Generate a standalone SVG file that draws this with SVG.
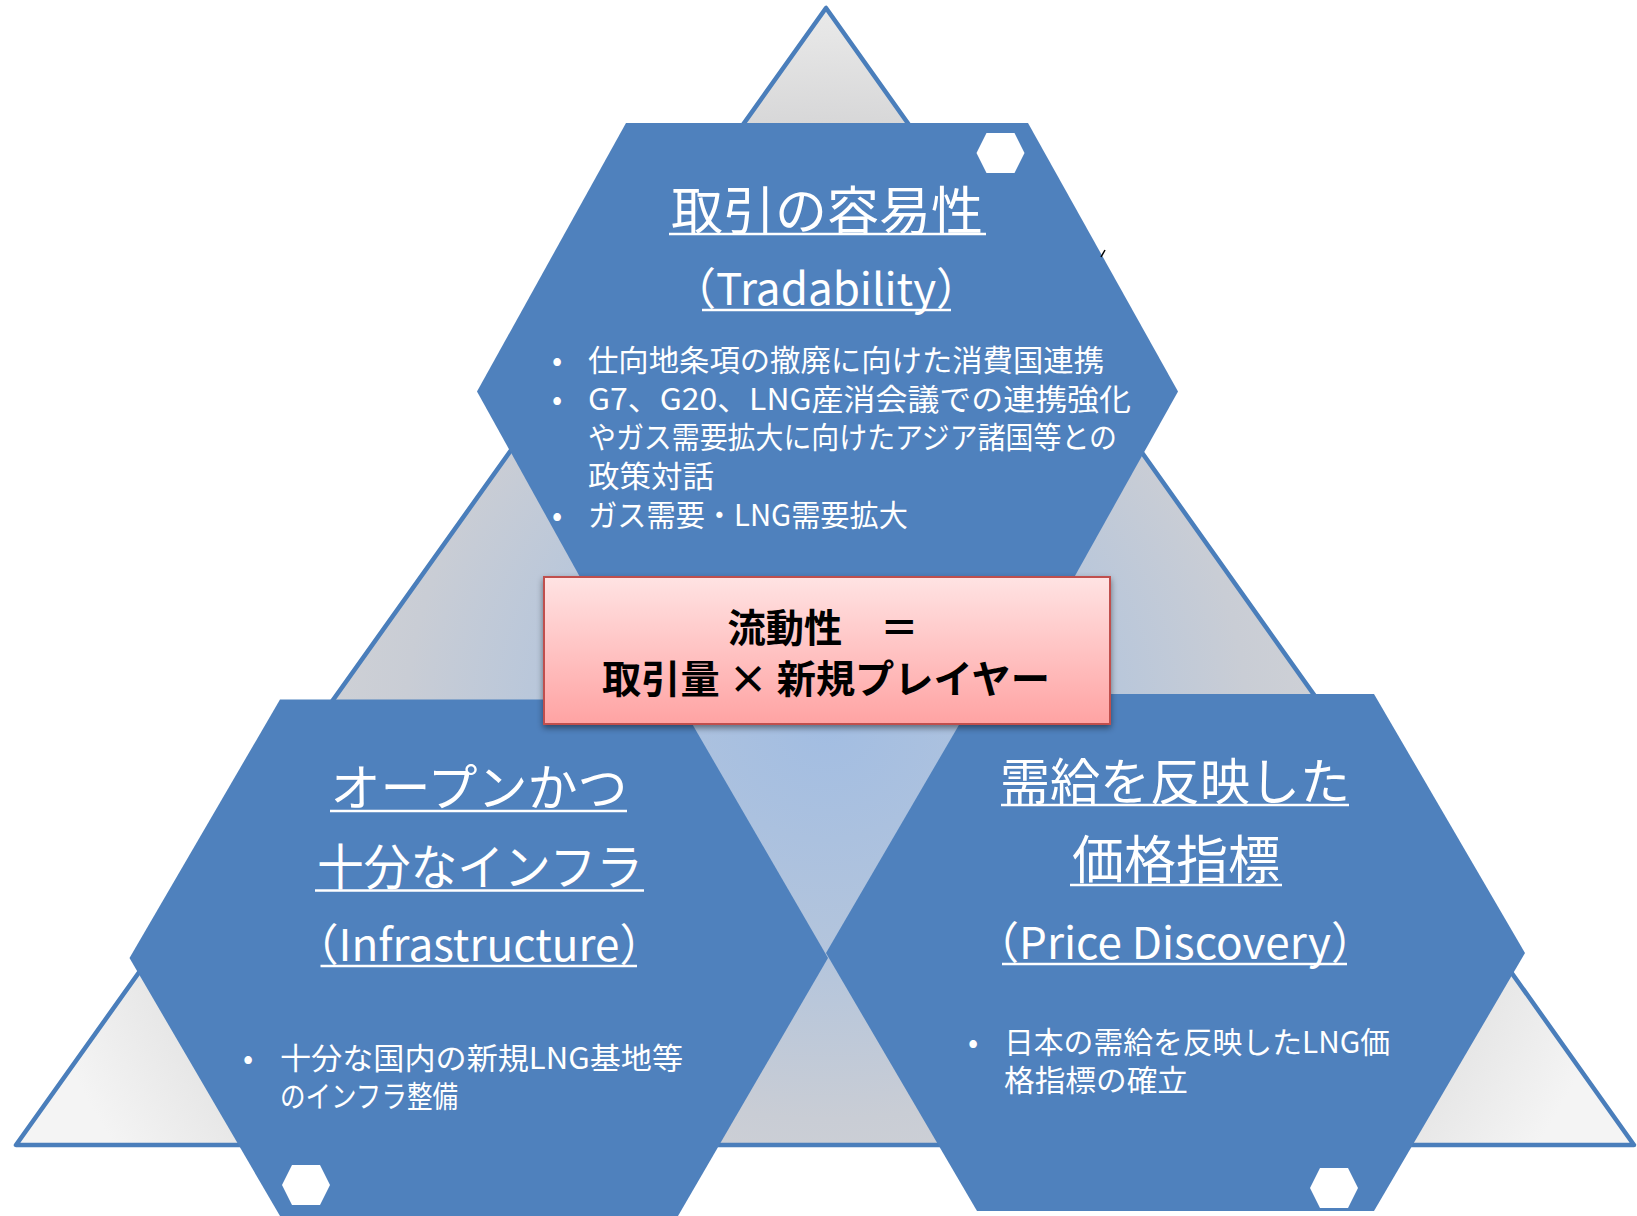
<svg xmlns="http://www.w3.org/2000/svg" width="1637" height="1216" viewBox="0 0 1637 1216">
<defs>
<radialGradient id="triG" gradientUnits="userSpaceOnUse" cx="826" cy="720" r="840" gradientTransform="translate(826 720) scale(1 0.95) translate(-826 -720)">
<stop offset="0" stop-color="#a2bde2"/>
<stop offset="0.3" stop-color="#b4c5dc"/>
<stop offset="0.5" stop-color="#c9cdd5"/>
<stop offset="0.74" stop-color="#d6d6d7"/>
<stop offset="0.86" stop-color="#e6e6e6"/>
<stop offset="1" stop-color="#f4f4f4"/>
</radialGradient>
<linearGradient id="pinkG" x1="0" y1="0" x2="0" y2="1">
<stop offset="0" stop-color="#ffe3e3"/>
<stop offset="1" stop-color="#ffa3a3"/>
</linearGradient>
<filter id="shadow" x="-10%" y="-10%" width="120%" height="130%">
<feDropShadow dx="0" dy="3" stdDeviation="3" flood-color="#000" flood-opacity="0.45"/>
</filter>
</defs>
<style>
.hex{fill:#4f81bd;}
.mini{fill:#ffffff;}
.title{font-family:"Noto Sans CJK JP","Noto Sans",sans-serif;fill:#ffffff;text-anchor:middle;}
.ul{stroke:#ffffff;stroke-width:2.5;}
.body{font-family:"Noto Sans CJK JP","Noto Sans",sans-serif;fill:#ffffff;font-size:30px;}
.center{font-family:"Noto Sans CJK JP","Noto Sans",sans-serif;fill:#000000;font-size:39px;font-weight:bold;text-anchor:middle;}
</style>

<g id="triangle">
<polygon points="826,8 16,1145 1634,1145" fill="url(#triG)" stroke="#4a7ebb" stroke-width="4.5" stroke-linejoin="round"/>
</g>

<g id="node-tradability">
<polygon class="hex" points="626,123 1028,123 1178,391.5 1028,660 626,660 477,391.5"/>
<polygon class="mini" points="976.5,153 986.5,133 1014.5,133 1024.5,153 1014.5,173 986.5,173"/>
<text class="title" x="827" y="230" font-size="52">取引の容易性</text>
<line class="ul" x1="669" y1="234" x2="986" y2="234"/>
<text class="title" x="826" y="305" font-size="44">（Tradability）</text>
<line class="ul" x1="702" y1="310" x2="951" y2="310"/>
<text class="body"><tspan x="552" y="371">•</tspan><tspan x="552" y="410">•</tspan><tspan x="552" y="526">•</tspan></text>
<text class="body"><tspan x="588" y="371" textLength="516" lengthAdjust="spacingAndGlyphs">仕向地条項の撤廃に向けた消費国連携</tspan><tspan x="588" y="410" textLength="543" lengthAdjust="spacingAndGlyphs">G7、G20、LNG産消会議での連携強化</tspan><tspan x="588" y="448" textLength="529" lengthAdjust="spacingAndGlyphs">やガス需要拡大に向けたアジア諸国等との</tspan><tspan x="588" y="487" textLength="126" lengthAdjust="spacingAndGlyphs">政策対話</tspan><tspan x="588" y="526" textLength="320" lengthAdjust="spacingAndGlyphs">ガス需要・LNG需要拡大</tspan></text>
<line x1="1101" y1="257" x2="1105" y2="250" stroke="#000" stroke-width="1.5"/>
</g>

<g id="node-infrastructure">
<polygon class="hex" points="280,699.5 678,699.5 828,958 678,1216 280,1216 129.5,958"/>
<polygon class="mini" points="282,1185 292,1165 320,1165 330,1185 320,1205 292,1205"/>
<text class="title" x="479" y="806" font-size="50">オープンかつ</text>
<line class="ul" x1="330" y1="811" x2="627" y2="811"/>
<text class="title" x="480" y="885" font-size="49" textLength="326" lengthAdjust="spacingAndGlyphs">十分なインフラ</text>
<line class="ul" x1="315" y1="890.5" x2="644" y2="890.5"/>
<text class="title" x="479" y="961" font-size="44">（Infrastructure）</text>
<line class="ul" x1="320.5" y1="966" x2="637" y2="966"/>
<text class="body" x="243" y="1069">•</text>
<text class="body"><tspan x="280" y="1069" textLength="403" lengthAdjust="spacingAndGlyphs">十分な国内の新規LNG基地等</tspan><tspan x="280" y="1107" textLength="178" lengthAdjust="spacingAndGlyphs">のインフラ整備</tspan></text>
</g>

<g id="node-price">
<polygon class="hex" points="977,694 1374,694 1525,953 1374,1211 977,1211 826,953"/>
<polygon class="mini" points="1310,1188 1320,1168 1348,1168 1358,1188 1348,1208 1320,1208"/>
<text class="title" x="1175" y="800" font-size="50">需給を反映した</text>
<line class="ul" x1="1001" y1="805" x2="1349" y2="805"/>
<text class="title" x="1176" y="879" font-size="52">価格指標</text>
<line class="ul" x1="1070" y1="885" x2="1282" y2="885"/>
<text class="title" x="1175" y="959" font-size="44">（Price Discovery）</text>
<line class="ul" x1="1002" y1="964" x2="1347" y2="964"/>
<text class="body" x="968" y="1053">•</text>
<text class="body"><tspan x="1004" y="1053" textLength="386" lengthAdjust="spacingAndGlyphs">日本の需給を反映したLNG価</tspan><tspan x="1004" y="1091" textLength="184" lengthAdjust="spacingAndGlyphs">格指標の確立</tspan></text>
</g>

<g id="node-liquidity">
<rect x="544" y="577" width="566" height="147" fill="url(#pinkG)" stroke="#c0504d" stroke-width="2" filter="url(#shadow)"/>
<text class="center"><tspan x="823" y="642" textLength="191" lengthAdjust="spacingAndGlyphs">流動性　＝</tspan><tspan x="826" y="693" textLength="448" lengthAdjust="spacingAndGlyphs">取引量 × 新規プレイヤー</tspan></text>
</g>

<g id="connectors"></g>
</svg>
